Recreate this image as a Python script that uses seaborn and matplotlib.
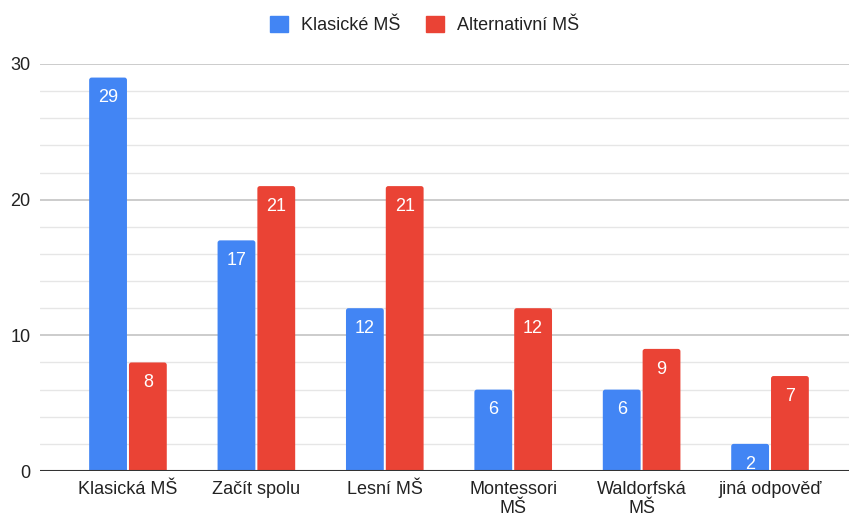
import matplotlib
matplotlib.use("Agg")
import matplotlib.pyplot as plt
import seaborn as sns
import pandas as pd
from matplotlib.patches import Patch, FancyBboxPatch
from matplotlib.ticker import MultipleLocator

categories = ["Klasická MŠ", "Začít spolu", "Lesní MŠ", "Montessori\nMŠ", "Waldorfská\nMŠ", "jiná odpověď"]
series_names = ["Klasické MŠ", "Alternativní MŠ"]
klasicke = [29, 17, 12, 6, 6, 2]
alternativni = [8, 21, 21, 12, 9, 7]
colors = ["#4285F4", "#EA4335"]

df = pd.DataFrame({
    "kategorie": categories * 2,
    "skupina": [series_names[0]] * len(categories) + [series_names[1]] * len(categories),
    "hodnota": klasicke + alternativni,
})

sns.set_theme(style="white")
plt.rcParams["font.family"] = ["Liberation Sans", "DejaVu Sans"]

fig = plt.figure(figsize=(8.49, 5.18), dpi=100)
ax = fig.add_axes([40 / 849, 1 - 471 / 518, 809 / 849, (471 - 64) / 518])

sns.barplot(data=df, x="kategorie", y="hodnota", hue="skupina", order=categories,
            hue_order=series_names, palette=colors, width=0.62, gap=0.05,
            saturation=1, legend=False, ax=ax, zorder=3)

ax.set_ylim(0, 30)
ax.set_xlim(-0.685, 5.615)

# px per data unit
xpx = 809 / (5.615 + 0.685)
ypx = (471 - 64) / 30
r_px = 2.5
for cont in ax.containers:
    for rect in cont:
        x0, w, h = rect.get_x(), rect.get_width(), rect.get_height()
        fc = rect.get_facecolor()
        rect.set_visible(False)
        rr = r_px / xpx
        fb = FancyBboxPatch((x0, -r_px / ypx), w, h + r_px / ypx,
                            boxstyle=f"round,pad=0,rounding_size={rr}",
                            mutation_aspect=xpx / ypx,
                            facecolor=fc, edgecolor="none", zorder=3)
        ax.add_patch(fb)
        ax.annotate(f"{int(round(h))}", (x0 + w / 2, h),
                    xytext=(0, -14.5), textcoords="offset points",
                    ha="center", va="center", color="white", fontsize=13, zorder=4)

ax.yaxis.set_major_locator(MultipleLocator(10))
ax.yaxis.set_minor_locator(MultipleLocator(2))
ax.grid(axis="y", which="major", color="#c8c8c8", linewidth=1.3, zorder=0)
ax.grid(axis="y", which="minor", color="#e6e6e6", linewidth=1.0, zorder=0)
ax.axhline(0, color="#333333", linewidth=1.5, zorder=5)
for s in ax.spines.values():
    s.set_visible(False)
ax.set_xlabel("")
ax.set_ylabel("")
ax.tick_params(axis="both", which="both", length=0, labelsize=13, colors="#222222")
ax.tick_params(axis="y", pad=7)
ax.tick_params(axis="x", pad=7)
for lbl in ax.get_xticklabels():
    lbl.set_linespacing(1.15)

handles = [Patch(facecolor=c, edgecolor=c) for c in colors]
fig.legend(handles, series_names, loc="center", bbox_to_anchor=(0.5, 1 - 25 / 518),
           ncol=2, frameon=False, fontsize=13, handlelength=1.0, handleheight=1.0,
           handletextpad=0.75, columnspacing=1.4, labelcolor="#222222")

fig.savefig("out.png", dpi=100)
